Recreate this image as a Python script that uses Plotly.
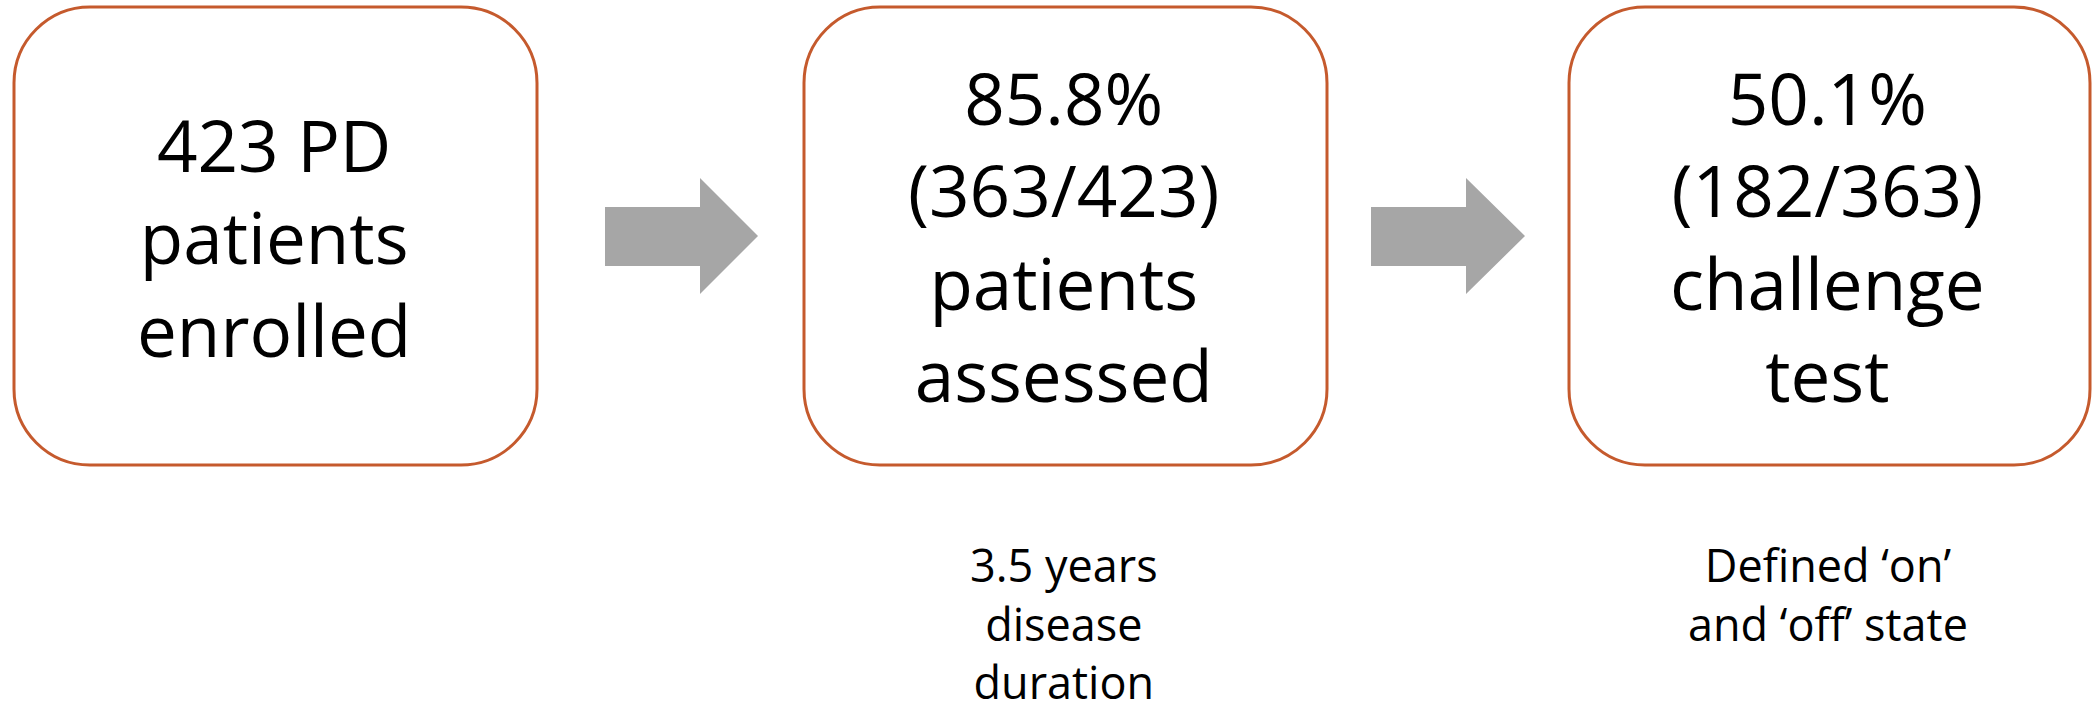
import plotly.graph_objects as go

# ---- data ----
enrolled = 423
assessed = 363
challenge = 182
duration_years = 3.5

pct_assessed = round(100 * assessed / enrolled, 1)
pct_challenge = round(100 * challenge / assessed, 1)

box_lines = [
    [f"{enrolled} PD", "patients", "enrolled"],
    [f"{pct_assessed}%", f"({assessed}/{enrolled})", "patients", "assessed"],
    [f"{pct_challenge}%", f"({challenge}/{assessed})", "challenge", "test"],
]
note_lines = [
    [],
    [f"{duration_years} years", "disease", "duration"],
    ["Defined \u2018on\u2019", "and \u2018off\u2019 state"],
]

# ---- layout geometry (pixels) ----
W, H = 2092, 701
boxes_x = [(14, 537), (804, 1327), (1569, 2090)]
box_y = (7, 465)
radius = 76
arrows_x = [(605, 700, 758), (1371, 1466, 1525)]
shaft_y = (207, 266)
head_y = (178, 294)

box_color = "#C55A2D"
arrow_color = "#A6A6A6"
FONT = "Century Gothic, Open Sans, sans-serif"
big = 71
small = 45
baseline_off = 0.388  # mean baseline below annotation center, in em

box_baseline_mean = [265, 263.5, 263.5]
note_baseline_mean = [None, 640, 611]


def rounded_rect(x0, y0, x1, y1, r):
    k = 0.5523 * r
    return (
        f"M {x0 + r},{y0} L {x1 - r},{y0} "
        f"C {x1 - r + k},{y0} {x1},{y0 + r - k} {x1},{y0 + r} "
        f"L {x1},{y1 - r} "
        f"C {x1},{y1 - r + k} {x1 - r + k},{y1} {x1 - r},{y1} "
        f"L {x0 + r},{y1} "
        f"C {x0 + r - k},{y1} {x0},{y1 - r + k} {x0},{y1 - r} "
        f"L {x0},{y0 + r} "
        f"C {x0},{y0 + r - k} {x0 + r - k},{y0} {x0 + r},{y0} Z"
    )


def arrow_path(xs, xb, xt):
    cy = (head_y[0] + head_y[1]) / 2
    return (
        f"M {xs},{shaft_y[0]} L {xb},{shaft_y[0]} L {xb},{head_y[0]} "
        f"L {xt},{cy} L {xb},{head_y[1]} L {xb},{shaft_y[1]} "
        f"L {xs},{shaft_y[1]} Z"
    )


fig = go.Figure()
shapes = []
for (x0, x1) in boxes_x:
    shapes.append(dict(type="path", xref="x", yref="y",
                       path=rounded_rect(x0, box_y[0], x1, box_y[1], radius),
                       line=dict(color=box_color, width=3),
                       fillcolor="white"))
for a in arrows_x:
    shapes.append(dict(type="path", xref="x", yref="y", path=arrow_path(*a),
                       line=dict(width=0), fillcolor=arrow_color))

annotations = []
for i, (x0, x1) in enumerate(boxes_x):
    cx = (x0 + x1) / 2 - 2
    annotations.append(dict(x=cx, y=box_baseline_mean[i] - baseline_off * big,
                            xref="x", yref="y", text="<br>".join(box_lines[i]),
                            showarrow=False, xanchor="center", yanchor="middle",
                            align="center",
                            font=dict(family=FONT, size=big, color="black")))
    if note_lines[i]:
        annotations.append(dict(x=cx, y=note_baseline_mean[i] - baseline_off * small,
                                xref="x", yref="y", text="<br>".join(note_lines[i]),
                                showarrow=False, xanchor="center", yanchor="middle",
                                align="center",
                                font=dict(family=FONT, size=small, color="black")))

fig.add_trace(go.Scatter(x=[0, W], y=[0, H], mode="markers",
                         marker=dict(opacity=0), hoverinfo="skip",
                         showlegend=False))

fig.update_layout(
    width=W, height=H,
    margin=dict(l=0, r=0, t=0, b=0),
    paper_bgcolor="white", plot_bgcolor="white",
    shapes=shapes, annotations=annotations,
    xaxis=dict(range=[0, W], visible=False, fixedrange=True),
    yaxis=dict(range=[H, 0], visible=False, fixedrange=True),
    showlegend=False,
)

fig.write_html("out.html", config={"displayModeBar": False},
               post_script="document.body.style.margin='0';")
